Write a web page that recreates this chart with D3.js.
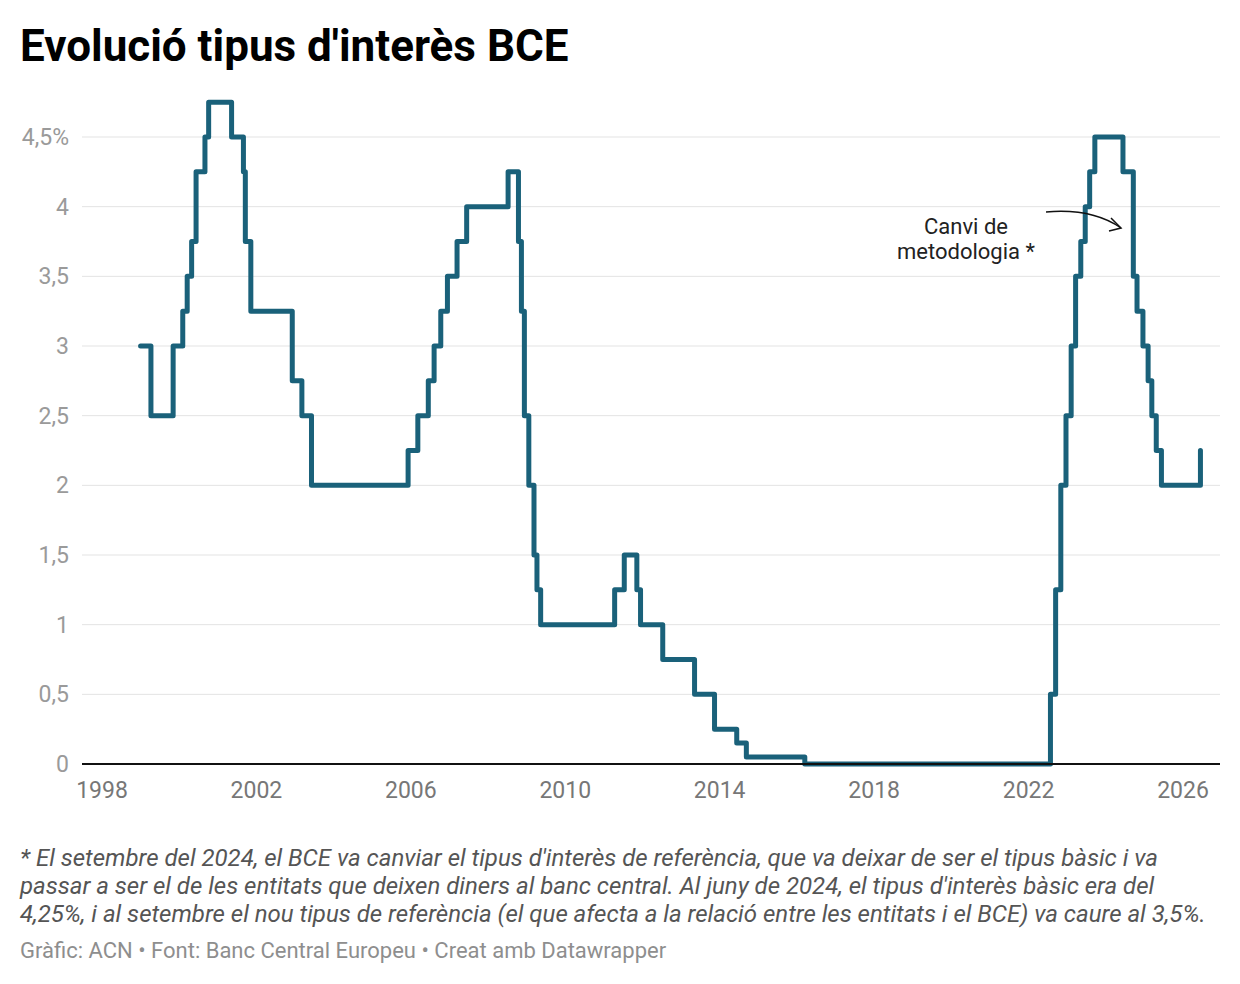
<!DOCTYPE html>
<html>
<head>
<meta charset="utf-8">
<script src="https://cdn.jsdelivr.net/npm/d3@7"></script>
<style>
  body { margin: 0; background: #fff; font-family: Roboto, "Noto Sans", sans-serif; }
  svg text { font-family: Roboto, "Noto Sans", sans-serif; }
</style>
</head>
<body>
<div id="chart"></div>
<script>
// ===== ECB rate changes (step data) =====
var dates = [
  "1999-01-01","1999-04-09","1999-11-05","2000-02-04","2000-03-17","2000-04-28",
  "2000-06-09","2000-09-01","2000-10-06","2001-05-11","2001-08-31","2001-09-18",
  "2001-11-09","2002-12-06","2003-03-07","2003-06-06","2005-12-06","2006-03-08",
  "2006-06-15","2006-08-09","2006-10-11","2006-12-13","2007-03-14","2007-06-13",
  "2008-07-09","2008-10-15","2008-11-12","2008-12-10","2009-01-21","2009-03-11",
  "2009-04-08","2009-05-13","2011-04-13","2011-07-13","2011-11-09","2011-12-14",
  "2012-07-11","2013-05-08","2013-11-13","2014-06-11","2014-09-10","2016-03-16",
  "2022-07-27","2022-09-14","2022-11-02","2022-12-21","2023-02-08","2023-03-22",
  "2023-05-10","2023-06-21","2023-08-02","2023-09-20","2024-06-12","2024-09-18",
  "2024-10-23","2024-12-18","2025-02-05","2025-03-12","2025-04-23","2025-06-11",
  "2026-06-15"
];
var rates = [
  3, 2.5, 3, 3.25, 3.5, 3.75,
  4.25, 4.5, 4.75, 4.5, 4.25, 3.75,
  3.25, 2.75, 2.5, 2, 2.25, 2.5,
  2.75, 3, 3.25, 3.5, 3.75, 4,
  4.25, 3.75, 3.25, 2.5, 2, 1.5,
  1.25, 1, 1.25, 1.5, 1.25, 1,
  0.75, 0.5, 0.25, 0.15, 0.05, 0,
  0.5, 1.25, 2, 2.5, 3, 3.5,
  3.75, 4, 4.25, 4.5, 4.25, 3.5,
  3.25, 3, 2.75, 2.5, 2.25, 2,
  2.25
];
var yTicks = [0, 0.5, 1, 1.5, 2, 2.5, 3, 3.5, 4, 4.5];
var xTickYears = [1998, 2002, 2006, 2010, 2014, 2018, 2022, 2026];

var title = "Evolució tipus d'interès BCE";
var noteLines = [
  "* El setembre del 2024, el BCE va canviar el tipus d'interès de referència, que va deixar de ser el tipus bàsic i va",
  "passar a ser el de les entitats que deixen diners al banc central. Al juny de 2024, el tipus d'interès bàsic era del",
  "4,25%, i al setembre el nou tipus de referència (el que afecta a la relació entre les entitats i el BCE) va caure al 3,5%."
];
var footer = "Gràfic: ACN • Font: Banc Central Europeu • Creat amb Datawrapper";

var data = dates.map(function(d, i){ return {date: new Date(d + "T00:00:00Z"), value: rates[i]} });

var W = 1240, H = 984;
var svg = d3.select("#chart").append("svg")
    .attr("width", W)
    .attr("height", H)

var x = d3.scaleUtc()
    .domain([new Date(Date.UTC(1998,0,1)), new Date(Date.UTC(2026,0,1))])
    .range([102, 1183])
var y = d3.scaleLinear().domain([0, 4.5]).range([764, 137])
var gridLeft = 82, gridRight = 1220;

// title
svg.append("text")
    .text(title)
    .attr("x", 20)
    .attr("y", 61)
    .attr("font-size", "44px")
    .attr("font-weight", "bold")
    .attr("fill", "#000")

// grid + y labels
var yg = svg.append("g")
yg.selectAll("line").data(yTicks.filter(function(t){return t > 0})).enter().append("line")
    .attr("x1", gridLeft).attr("x2", gridRight)
    .attr("y1", function(d){return y(d)}).attr("y2", function(d){return y(d)})
    .attr("stroke", "#e3e3e3").attr("stroke-width", 1)
yg.selectAll("text").data(yTicks).enter().append("text")
    .attr("x", 69)
    .attr("y", function(d){return y(d) + 8})
    .attr("text-anchor", "end")
    .attr("font-size", "23px")
    .attr("fill", "#9a9a9a")
    .text(function(d){
        var s = String(d).replace(".", ",");
        return d === 4.5 ? s + "%" : s;
    })

// x labels
svg.append("g").selectAll("text").data(xTickYears).enter().append("text")
    .attr("x", function(d){return x(new Date(Date.UTC(d,0,1)))})
    .attr("y", 798)
    .attr("text-anchor", "middle")
    .attr("font-size", "23px")
    .attr("fill", "#777")
    .text(function(d){return d})

// step line
var line = d3.line()
    .x(function(d){return x(d.date)})
    .y(function(d){return y(d.value)})
    .curve(d3.curveStepAfter)

svg.append("path")
    .datum(data)
    .attr("d", line)
    .attr("fill", "none")
    .attr("stroke", "#1a617a")
    .attr("stroke-width", 5)
    .attr("stroke-linejoin", "round")
    .attr("stroke-linecap", "round")

// baseline
svg.append("line")
    .attr("x1", gridLeft).attr("x2", gridRight)
    .attr("y1", y(0)).attr("y2", y(0))
    .attr("stroke", "#111").attr("stroke-width", 2)

// annotation
var ann = svg.append("text")
    .attr("text-anchor", "middle")
    .attr("font-size", "22px")
    .attr("fill", "#222")
ann.append("tspan").attr("x", 966).attr("y", 234).text("Canvi de")
ann.append("tspan").attr("x", 966).attr("y", 259).text("metodologia *")

svg.append("path")
    .attr("d", "M1046,212 Q1092,208 1121,228")
    .attr("fill", "none")
    .attr("stroke", "#111")
    .attr("stroke-width", 1.5)
svg.append("path")
    .attr("d", "M1111,218 L1121,228 L1109,231")
    .attr("fill", "none")
    .attr("stroke", "#111")
    .attr("stroke-width", 1.5)

// notes
svg.append("g").selectAll("text").data(noteLines).enter().append("text")
    .attr("x", 20)
    .attr("y", function(d, i){return 866 + i * 28})
    .attr("font-size", "24px")
    .attr("font-style", "italic")
    .attr("fill", "#555")
    .text(function(d){return d})

svg.append("text")
    .text(footer)
    .attr("x", 20)
    .attr("y", 958)
    .attr("font-size", "22px")
    .attr("fill", "#8e8e8e")
</script>
</body>
</html>
